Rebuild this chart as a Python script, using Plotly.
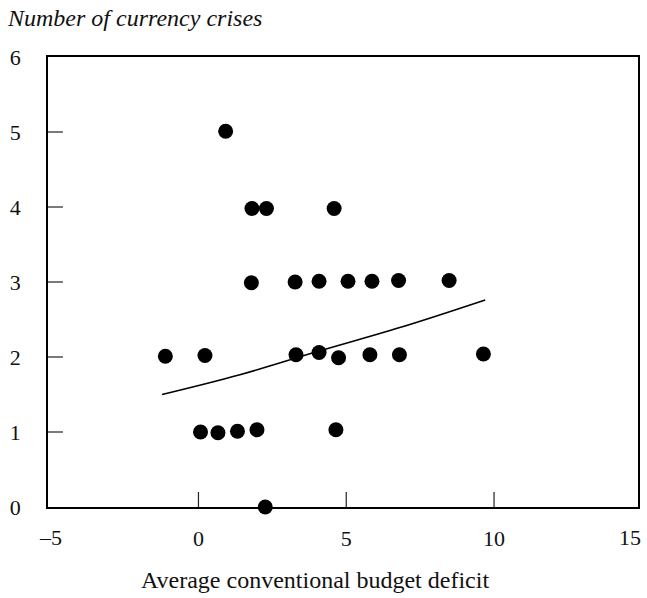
import plotly.graph_objects as go

# Countries: average conventional budget deficit vs number of currency crises
deficit = [0.92,
           1.81, 2.30, 4.59,
           1.79, 3.27, 4.08, 5.06, 5.87, 6.77, 8.48,
           -1.12, 0.22, 3.30, 4.08, 4.74, 5.80, 6.80, 9.64,
           0.07, 0.66, 1.32, 1.98, 4.65,
           2.26]
crises = [5.01,
          3.98, 3.98, 3.98,
          2.99, 3.00, 3.01, 3.01, 3.01, 3.02, 3.02,
          2.01, 2.02, 2.03, 2.06, 1.99, 2.03, 2.03, 2.04,
          1.00, 0.99, 1.01, 1.03, 1.03,
          0.00]

# Fitted relationship
fit_x = [-1.23, 1.37, 4.08, 6.96, 9.70]
fit_y = [1.50, 1.76, 2.08, 2.41, 2.76]

x_tick_vals = [0, 5, 10]
x_edge_labels = ["\u20135", "15"]
y_tick_vals = [0, 1, 2, 3, 4, 5, 6]
y_inner_ticks = [1, 2, 3, 4, 5]

FONT = "Liberation Serif"
TICK_SIZE = 22
TITLE_SIZE = 24
TICK_LEN = 15  # px

fig = go.Figure()
fig.add_trace(go.Scatter(
    x=fit_x, y=fit_y, mode="lines",
    line=dict(color="black", width=1.5, shape="spline"),
    hoverinfo="skip", showlegend=False,
))
fig.add_trace(go.Scatter(
    x=deficit, y=crises, mode="markers",
    marker=dict(color="black", size=15, line=dict(width=0)),
    showlegend=False, cliponaxis=False,
))

fig.update_xaxes(
    range=[-5.09, 14.87],
    tickvals=x_tick_vals,
    ticktext=[str(v) for v in x_tick_vals],
    ticks="", ticklabelstandoff=11,
    showline=True, linecolor="black", linewidth=1.5, mirror=True,
    showgrid=False, zeroline=False,
    tickfont=dict(family=FONT, size=TICK_SIZE, color="#111"),
)
fig.update_yaxes(
    range=[0, 6],
    tickvals=y_tick_vals,
    ticks="", ticklabelstandoff=21,
    showline=True, linecolor="black", linewidth=1.5, mirror=True,
    showgrid=False, zeroline=False,
    tickfont=dict(family=FONT, size=TICK_SIZE, color="#111"),
)

plot_w = 647 - 48 - 7
plot_h = 598 - 57 - 91
shapes = []
for v in x_tick_vals:
    shapes.append(dict(type="line", xref="x", yref="paper",
                       x0=v, x1=v, y0=0, y1=TICK_LEN / plot_h,
                       line=dict(color="#222", width=1.2)))
for v in y_inner_ticks:
    shapes.append(dict(type="line", xref="paper", yref="y",
                       x0=0, x1=TICK_LEN / plot_w, y0=v, y1=v,
                       line=dict(color="#222", width=1.2)))

annotations = []
# outer x labels sit at the frame corners
for text, px in zip(x_edge_labels, [0.005, 0.986]):
    annotations.append(dict(
        x=px, xref="paper", y=0, yref="paper", yshift=-30,
        text=text, showarrow=False, xanchor="center", yanchor="middle",
        font=dict(family=FONT, size=TICK_SIZE, color="#111"),
    ))
annotations.append(dict(
    x=0.453, xref="paper", y=-0.162, yref="paper",
    text="Average conventional budget deficit",
    showarrow=False, xanchor="center", yanchor="middle",
    font=dict(family=FONT, size=TITLE_SIZE, color="#111"),
))
annotations.append(dict(
    x=-0.073, xref="paper", y=1.087, yref="paper",
    text="<i>Number of currency crises</i>",
    showarrow=False, xanchor="left", yanchor="middle",
    font=dict(family=FONT, size=TITLE_SIZE, color="#111"),
))

fig.update_layout(
    width=647, height=598,
    margin=dict(l=48, r=7, t=57, b=91),
    paper_bgcolor="white", plot_bgcolor="white",
    shapes=shapes, annotations=annotations,
)

fig.write_html("out.html")
